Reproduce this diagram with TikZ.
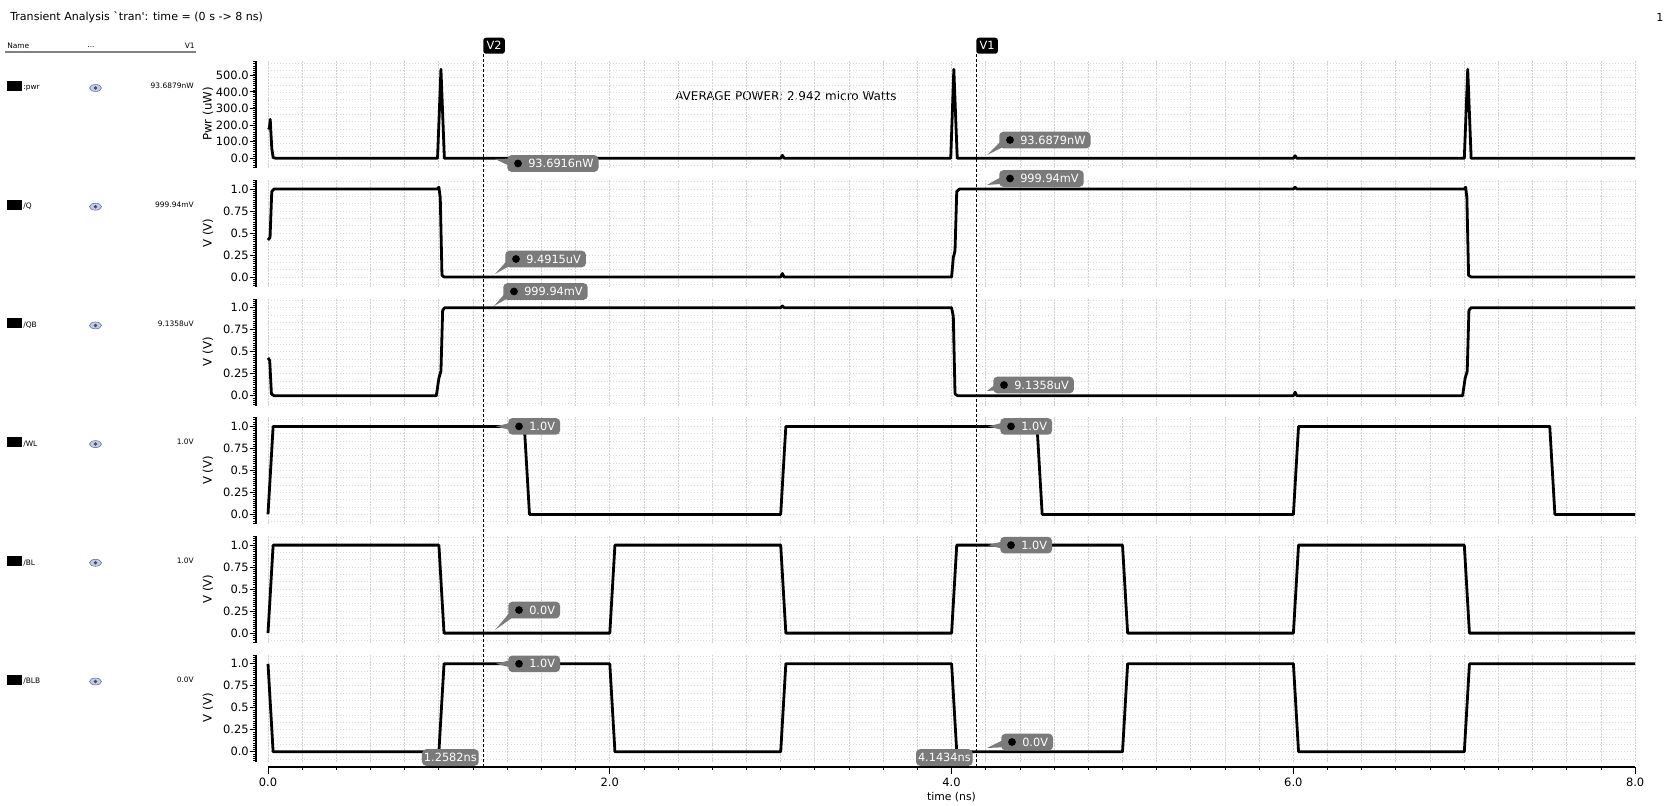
\documentclass[tikz,border=0pt]{standalone}
\usepackage{fontspec}
\setmainfont{DejaVu Sans}
\usetikzlibrary{calc}

\definecolor{tagfill}{RGB}{122,122,122}
\definecolor{eyeblue}{RGB}{90,110,165}

% value tag: name, tip coordinate, west point of the box, text
\newcommand{\valtag}[4]{%
  \node[tag,anchor=west] (#1) at #3 {\hspace*{12pt}#4};
  \fill[tagfill] (#2) -- ($(#1.west)+(8,-5)$) -- ($(#1.west)+(8,5)$) -- cycle;
  \fill ($(#1.west)+(11,0)$) circle[radius=2.9pt];
}

\begin{document}
\begin{tikzpicture}[x=0.75pt,y=-0.75pt,
      every node/.append style={inner sep=0pt},
      wave/.style={line width=2.1pt,line join=round},
      vgrid/.style={gray!35,line width=0.6pt,dash pattern=on 1.5pt off 0.75pt},
      hgrid/.style={gray!30,line width=0.6pt,dash pattern=on 0.75pt off 1.5pt},
      axis/.style={line width=0.8pt},
      ticklab/.style={font=\fontsize{8.6}{10}\selectfont},
      ylab/.style={rotate=90,font=\fontsize{8.8}{10}\selectfont},
      tag/.style={fill=tagfill,text=white,rounded corners=3pt,inner xsep=3.75pt,
        minimum height=12.4pt,font=\fontsize{8.5}{10}\selectfont},
      cursortag/.style={fill=black,text=white,rounded corners=2pt,inner xsep=2.5pt,
        minimum height=12pt,font=\fontsize{8.5}{10}\selectfont},
      cursor/.style={dash pattern=on 2.25pt off 1.5pt,line width=0.7pt},
      small/.style={font=\fontsize{5.6}{7}\selectfont}]
    \useasboundingbox (0,0) rectangle (1667,806);

    % header
    \node[anchor=west,font=\fontsize{8.3}{10}\selectfont] (title) at (10,17)
      {Transient Analysis \textasciigrave tran\textquotesingle: time = (0 s -> 8 ns)};
    \node[font=\fontsize{8.3}{10}\selectfont] (page) at (1660,17) {1};
    \node[anchor=west,font=\fontsize{9}{10}\selectfont] (avg) at (675,96)
      {AVERAGE POWER: 2.942 micro Watts};

    % signal list
    \node[small,anchor=west] (name) at (7,46) {Name};
    \node[small] (dots) at (91,47) {...};
    \node[small,anchor=east] (vcol) at (195,46) {V1};
    \draw[gray,line width=1.1pt] (5,52) -- (196,52);
    \fill (7,81) rectangle (22,91);
    \node[small,anchor=west] (lab0) at (23,88) {:pwr};
    \draw[eyeblue,fill=eyeblue!35] (95.5,88) ellipse [x radius=4.5pt,y radius=2.6pt];
    \fill[eyeblue!70!black] (95.5,88) circle[radius=1.4pt];
    \node[small,anchor=east] (val0) at (194,86) {93.6879nW};
    \foreach \yc/\sig/\val [count=\n] in {204.7/Q/999.94mV,323.4/QB/9.1358uV,
        442.1/WL/1.0V,560.8/BL/1.0V,679.5/BLB/0.0V}{
      \fill (7,\yc-5) rectangle (22,\yc+5);
      \node[small,anchor=west] (lab\n) at (23,\yc+2) {/\sig};
      \draw[eyeblue,fill=eyeblue!35] (95.5,\yc+2) ellipse [x radius=4.5pt,y radius=2.6pt];
      \fill[eyeblue!70!black] (95.5,\yc+2) circle[radius=1.4pt];
      \node[small,anchor=east] (val\n) at (194,\yc) {\val};
    }

    % grids and y axes
    \foreach \z in {158.3,277,395.7,514.4,633.1,751.8}{
      \foreach \i in {0,...,40}
        \draw[vgrid] ({268+34.1775*\i},\z-97) -- ({268+34.1775*\i},\z+10);
      \foreach \k in {-1,...,13}
        \draw[hgrid] (268,{\z-7.33*(\k)}) -- (1635,{\z-7.33*(\k)});
      \draw[axis] (256,\z-97) -- (256,\z+10);
      \foreach \k in {-4,...,44}
        \draw[line width=0.5pt] (253,{\z-2.2*(\k)}) -- (256,{\z-2.2*(\k)});
    }
    \foreach \v/\lab [count=\n] in {0/0.0,1/100.0,2/200.0,3/300.0,4/400.0,5/500.0}{
      \draw[line width=0.6pt] (250,158.3-16.6*\v) -- (256,158.3-16.6*\v);
      \node[ticklab,anchor=east] (pt\n) at (249,158.3-16.6*\v) {\lab};
    }
    \node[ylab] (ylab0) at (208,114) {Pwr (uW)};
    \foreach \z [count=\m] in {277,395.7,514.4,633.1,751.8}{
      \foreach \v/\lab [count=\n] in {0/0.0,0.25/0.25,0.5/0.5,0.75/0.75,1/1.0}{
        \draw[line width=0.6pt] (250,\z-88*\v) -- (256,\z-88*\v);
        \node[ticklab,anchor=east] (vt\m\n) at (249,\z-88*\v) {\lab};
      }
      \node[ylab] (ylab\m) at (208,\z-44) {V (V)};
    }

    % time axis
    \draw[axis] (268,767) -- (1635,767);
    \foreach \i in {0,...,40}
      \draw[line width=0.6pt] ({268+34.1775*\i},767) -- ++(0,3);
    \foreach \i/\lab in {0/0.0,1/2.0,2/4.0,3/6.0,4/8.0}{
      \draw[line width=0.6pt] ({268+341.775*\i},767) -- ++(0,6.5);
      \node[ticklab] (xt\i) at ({268+341.775*\i},782) {\lab};
    }
    \node[font=\fontsize{8.1}{10}\selectfont] (xlab) at (951.5,797) {time (ns)};

    % pwr
    \begin{scope}[shift={(268,158.3)},x=128.175pt,y=0.1245pt]
      \draw[wave] (0,185) -- (0.008,180) -- (0.013,235) -- (0.022,60) -- (0.03,5)
        -- (0.045,0) -- (0.992,0) -- (1.012,536) -- (1.032,0) -- (3.0,0) -- (3.01,18)
        -- (3.02,0) -- (3.995,0) -- (4.013,536) -- (4.033,0) -- (6.0,0) -- (6.01,15)
        -- (6.02,0) -- (7.0,0) -- (7.02,536) -- (7.04,0) -- (8,0);
    \end{scope}
    % Q
    \begin{scope}[shift={(268,277)},x=128.175pt,y=66pt]
      \draw[wave] (0,0.42) -- (0.012,0.45) -- (0.022,0.97) -- (0.035,1) -- (0.99,1)
        -- (1.0,1.02) -- (1.008,0.9) -- (1.018,0.02) -- (1.03,0) -- (3.0,0)
        -- (3.01,0.04) -- (3.02,0) -- (4.0,0) -- (4.01,0.22) -- (4.02,0.3)
        -- (4.03,0.97) -- (4.045,1) -- (6.0,1) -- (6.01,1.02) -- (6.02,1) -- (7.0,1)
        -- (7.008,1.02) -- (7.015,0.9) -- (7.025,0.02) -- (7.04,0) -- (8,0);
    \end{scope}
    % QB
    \begin{scope}[shift={(268,395.7)},x=128.175pt,y=66pt]
      \draw[wave] (0,0.43) -- (0.01,0.4) -- (0.02,0.02) -- (0.035,0) -- (0.985,0)
        -- (1.0,0.2) -- (1.012,0.28) -- (1.022,0.97) -- (1.035,1) -- (3.0,1)
        -- (3.01,1.02) -- (3.02,1) -- (4.0,1) -- (4.01,0.9) -- (4.02,0.02)
        -- (4.035,0) -- (6.0,0) -- (6.01,0.04) -- (6.02,0) -- (6.99,0) -- (7.005,0.2)
        -- (7.017,0.28) -- (7.027,0.97) -- (7.04,1) -- (8,1);
    \end{scope}
    % WL
    \begin{scope}[shift={(268,514.4)},x=128.175pt,y=66pt]
      \draw[wave] (0,0) -- (0.03,1) -- (1.5,1) -- (1.53,0) -- (3.0,0) -- (3.03,1)
        -- (4.5,1) -- (4.53,0) -- (6.0,0) -- (6.03,1) -- (7.5,1) -- (7.53,0) -- (8,0);
    \end{scope}
    % BL
    \begin{scope}[shift={(268,633.1)},x=128.175pt,y=66pt]
      \draw[wave] (0,0) -- (0.03,1) -- (1,1) -- (1.03,0) -- (2,0) -- (2.03,1)
        -- (3,1) -- (3.03,0) -- (4,0) -- (4.03,1) -- (5,1) -- (5.03,0) -- (6,0)
        -- (6.03,1) -- (7,1) -- (7.03,0) -- (8,0);
    \end{scope}
    % BLB
    \begin{scope}[shift={(268,751.8)},x=128.175pt,y=66pt]
      \draw[wave] (0,1) -- (0.03,0) -- (1,0) -- (1.03,1) -- (2,1) -- (2.03,0)
        -- (3,0) -- (3.03,1) -- (4,1) -- (4.03,0) -- (5,0) -- (5.03,1) -- (6,1)
        -- (6.03,0) -- (7,0) -- (7.03,1) -- (8,1);
    \end{scope}

    % cursors
    \node[cursortag,anchor=south west] (v2) at (483,54) {V2};
    \node[cursortag,anchor=south west] (v1) at (976,54) {V1};
    \coordinate (v2end) at (483,767);
    \coordinate (v1end) at (976,767);
    \draw[cursor] (v2.south west) -- (v2end);
    \draw[cursor] (v1.south west) -- (v1end);

    % tip points
    \coordinate (a0) at (495,159);
    \coordinate (a1) at (495,274);
    \coordinate (a2) at (494,306);
    \coordinate (a3) at (496,426.4);
    \coordinate (a4) at (495,630);
    \coordinate (a5) at (496,663.8);
    \coordinate (b0) at (987,155);
    \coordinate (b1) at (987,185);
    \coordinate (b2) at (987,391);
    \coordinate (b3) at (988,426.4);
    \coordinate (b4) at (988,545.1);
    \coordinate (b5) at (987,748);

    \valtag{m20}{a0}{(507,163.5)}{93.6916nW}
    \valtag{m21}{a1}{(505,259)}{9.4915uV}
    \valtag{m22}{a2}{(503,291.5)}{999.94mV}
    \valtag{m23}{a3}{(508,426.4)}{1.0V}
    \valtag{m24}{a4}{(508,610)}{0.0V}
    \valtag{m25}{a5}{(508,663.8)}{1.0V}
    \valtag{m10}{b0}{(999,140)}{93.6879nW}
    \valtag{m11}{b1}{(999,178.5)}{999.94mV}
    \valtag{m12}{b2}{(993,385)}{9.1358uV}
    \valtag{m13}{b3}{(1000,426.4)}{1.0V}
    \valtag{m14}{b4}{(1000,545.1)}{1.0V}
    \valtag{m15}{b5}{(1001,742)}{0.0V}
    \node[tag,inner xsep=1.5pt,anchor=east] (t2) at (479,757.5) {1.2582ns};
    \node[tag,inner xsep=1.5pt,anchor=east] (t1) at (973,757.5) {4.1434ns};
\end{tikzpicture}
\end{document}
